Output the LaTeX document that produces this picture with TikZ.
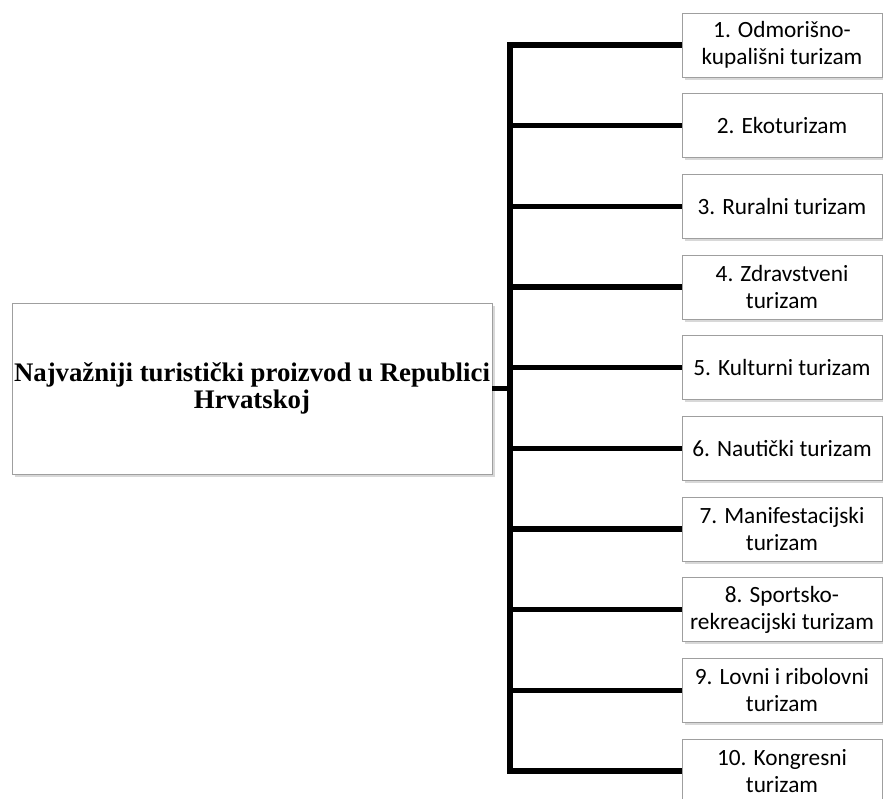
\documentclass[tikz,border=0pt]{standalone}
\usepackage{fontspec}
\setmainfont{Liberation Serif}
\newfontfamily\calibri{Carlito}
\usetikzlibrary{shadows}

\begin{document}
\begin{tikzpicture}[x=1pt,y=-1pt,
  link/.style={line width=5.5pt,line join=miter},
  kind node/.style={rectangle,draw=gray!75,line width=0.9pt,fill=white,
    minimum width=200pt,minimum height=64pt,inner sep=0pt,align=center,
    font=\calibri\fontsize{23.3}{27}\selectfont,
    drop shadow={shadow xshift=2.5pt,shadow yshift=-2.5pt,fill=black!30}},
  root node/.style={rectangle,draw=gray!75,line width=0.9pt,fill=white,
    minimum width=480pt,minimum height=171pt,inner sep=0pt,align=center,
    font=\bfseries\fontsize{26.8}{27}\selectfont,
    drop shadow={shadow xshift=2.5pt,shadow yshift=-2.5pt,fill=black!30}}]
  \useasboundingbox (0,0) rectangle (883,798);

  \node[root node] (root) at (252,388.5)
    {Najvažniji turistički proizvod u Republici\\Hrvatskoj};

  \foreach \name [count=\i] in {{1. Odmorišno-\\kupališni turizam},
      {2. Ekoturizam}, {3. Ruralni turizam}, {4. Zdravstveni\\turizam},
      {5. Kulturni turizam}, {6. Nautički turizam},
      {7. Manifestacijski\\turizam}, {8. Sportsko-\\rekreacijski turizam},
      {9. Lovni i ribolovni\\turizam}, {10. Kongresni\\turizam}}
    \node[kind node] (k\i) at (782,{45+80.67*(\i-1)}) {\name};

  % trunk
  \coordinate (hub) at (510,388.5);
  \draw[link] (root.east) -- (hub);
  \draw[link] (k1.west) -- (hub |- k1.west) -- (hub |- k10.west) -- (k10.west);
  \foreach \i in {2,...,9}
    \draw[link] (hub |- k\i.west) -- (k\i.west);
\end{tikzpicture}
\end{document}
